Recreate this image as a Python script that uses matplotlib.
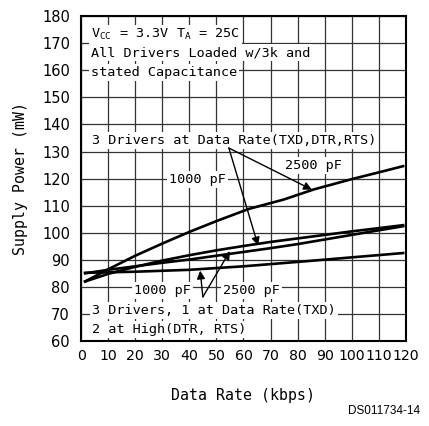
import matplotlib.pyplot as plt

# data rate (kbps) vs supply power (mW)
x_a = [1.5, 10, 20, 30, 40, 50, 62, 75, 86, 100, 110, 119]
y_a = [82, 86.5, 91.5, 96, 100.3, 104.3, 108.8, 112.3, 116, 119.8, 122.3, 124.6]

x_b = [1.5, 10, 20, 30, 40, 50, 60, 70, 80, 90, 100, 110, 119]
y_b = [82, 84.8, 87.4, 89.7, 91.7, 93.5, 95.1, 96.6, 97.9, 99.2, 100.5, 101.7, 102.8]

x_c = [1.5, 10, 20, 30, 40, 50, 60, 70, 80, 90, 100, 110, 119]
y_c = [85, 86.3, 87.6, 88.9, 90.1, 91.5, 92.9, 94.3, 95.8, 97.5, 99.2, 100.9, 102.4]

x_d = [1.5, 20, 40, 60, 81, 100, 119]
y_d = [85.2, 85.6, 86.3, 87.6, 89.3, 90.9, 92.5]

xticks = list(range(0, 121, 10))
yticks = list(range(60, 181, 10))

plt.rcParams['font.family'] = 'DejaVu Sans'
mono = 'DejaVu Sans Mono'
fig = plt.figure(figsize=(4.29, 4.26), dpi=100)
ax = fig.add_axes([0.189, 0.1995, 0.757, 0.7625])

for xs, ys in [(x_a, y_a), (x_b, y_b), (x_c, y_c), (x_d, y_d)]:
    ax.plot(xs, ys, color="black", linewidth=1.9, zorder=4)

ax.set_xlim(0, 120)
ax.set_ylim(60, 180)
ax.set_xticks(xticks)
ax.set_yticks(yticks)
ax.grid(True, color="#333333", linewidth=0.9, zorder=1)
ax.set_axisbelow(True)
ax.tick_params(length=0, labelsize=10.5, pad=8)
ax.tick_params(axis="x", labelsize=10.2, pad=6)
for s in ax.spines.values():
    s.set_linewidth(1.5)

ax.set_xlabel("Data Rate (kbps)", size=10.7, family=mono, labelpad=18)
ax.set_ylabel("Supply Power (mW)", size=10.7, family=mono, labelpad=10)

box = dict(facecolor="white", edgecolor="none", pad=1.5)
fs = 9.7
ax.text(3.5, 173.3, "V$_{\\mathregular{CC}}$ = 3.3V T$_{\\mathregular{A}}$ = 25C", size=fs, family=mono, va="center", bbox=box, zorder=3)
ax.text(3.5, 166.5, "All Drivers Loaded w/3k and", size=fs, family=mono, va="center", bbox=box, zorder=3)
ax.text(3.5, 159.2, "stated Capacitance", size=fs, family=mono, va="center", bbox=box, zorder=3)
ax.text(4, 134.2, "3 Drivers at Data Rate(TXD,DTR,RTS)", size=fs, family=mono, va="center", bbox=box, zorder=3)
ax.text(86, 125, "2500 pF", size=fs, family=mono, va="center", ha="center", bbox=box, zorder=3)
ax.text(43, 119.5, "1000 pF", size=fs, family=mono, va="center", ha="center", bbox=box, zorder=3)
ax.text(30, 78.8, "1000 pF", size=fs, family=mono, va="center", ha="center", bbox=box, zorder=3)
ax.text(63, 78.8, "2500 pF", size=fs, family=mono, va="center", ha="center", bbox=box, zorder=3)
ax.text(4, 71.4, "3 Drivers, 1 at Data Rate(TXD)", size=fs, family=mono, va="center", bbox=box, zorder=3)
ax.text(4, 64.2, "2 at High(DTR, RTS)", size=fs, family=mono, va="center", bbox=box, zorder=3)

arrow = dict(arrowstyle="-|>", color="black", linewidth=1, mutation_scale=12, shrinkA=0, shrinkB=0)
ax.annotate("", xy=(85.3, 115.9), xytext=(54.6, 131.3), arrowprops=arrow, zorder=5)
ax.annotate("", xy=(65.4, 95.3), xytext=(54.6, 131.3), arrowprops=arrow, zorder=5)
ax.annotate("", xy=(44, 86.0), xytext=(45, 76.3), arrowprops=arrow, zorder=5)
ax.annotate("", xy=(55, 93.2), xytext=(45, 76.3), arrowprops=arrow, zorder=5)

fig.text(0.98, 0.028, "DS011734-14", size=8.5, ha="right", family="Liberation Sans")

fig.savefig("out.png", dpi=100)
